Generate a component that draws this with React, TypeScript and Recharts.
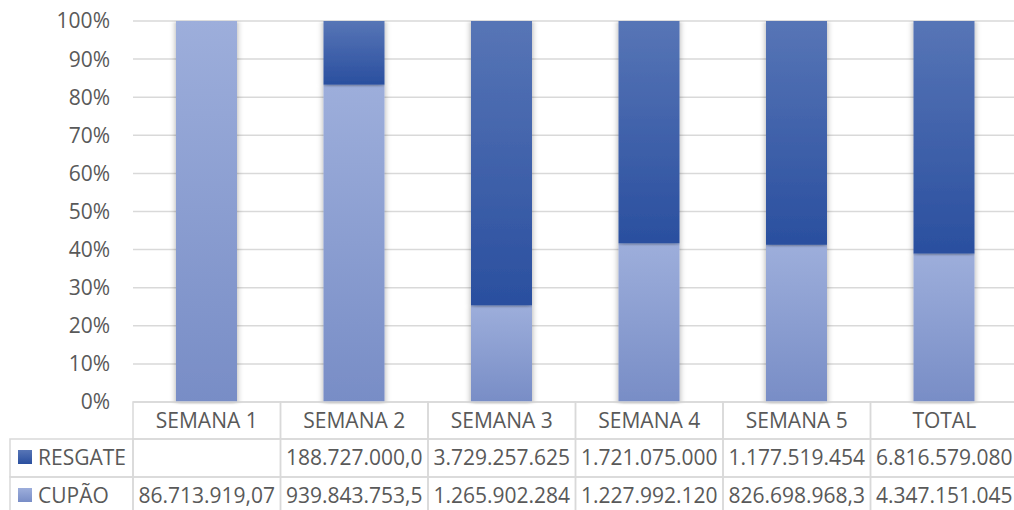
import React from 'react';
import { BarChart, Bar, XAxis, YAxis, CartesianGrid } from 'recharts';

const categories = ['SEMANA 1', 'SEMANA 2', 'SEMANA 3', 'SEMANA 4', 'SEMANA 5', 'TOTAL'];
const resgateValues: (number | null)[] = [null, 188727000.0, 3729257625, 1721075000, 1177519454, 6816579080];
const cupaoValues: number[] = [86713919.07, 939843753.5, 1265902284, 1227992120, 826698968.3, 4347151045];
const resgateLabels = ['', '188.727.000,0', '3.729.257.625', '1.721.075.000', '1.177.519.454', '6.816.579.080'];
const cupaoLabels = ['86.713.919,07', '939.843.753,5', '1.265.902.284', '1.227.992.120', '826.698.968,3', '4.347.151.045'];
const yTicks = [0, 0.1, 0.2, 0.3, 0.4, 0.5, 0.6, 0.7, 0.8, 0.9, 1];

const data = categories.map((name, i) => ({
  name,
  resgate: resgateValues[i],
  cupao: cupaoValues[i],
}));

const CHART_W = 1018;
const CHART_H = 520;
const LEFT = 133;
const TOP = 21;
const BAND_W = (CHART_W - LEFT) / categories.length;
const BORDER = '#D9D9D9';
const TEXT = '#595959';
const FONT = '"Open Sans", sans-serif';
const FS = 21;
const ROW_H = [37, 38, 43];

const cellText = (x: number, y: number, s: string, anchor: 'middle' | 'start' = 'middle') => (
  <text x={x} y={y + 18 + 7.5} textAnchor={anchor} fill={TEXT} fontFamily={FONT} fontSize={FS}>
    {s}
  </text>
);

const HeaderTick = (props: any) => {
  const { x, y, payload } = props;
  return (
    <g>
      <rect x={x - BAND_W / 2} y={y} width={BAND_W} height={ROW_H[0]} fill="none" stroke={BORDER} strokeWidth={1.5} />
      {cellText(x, y, String(payload.value))}
    </g>
  );
};

const makeRowTick = (labels: string[], name: string, color: string, rowIdx: number) => (props: any) => {
  const { x, y, index } = props;
  const h = ROW_H[rowIdx];
  return (
    <g>
      {index === 0 && (
        <g>
          <rect x={10} y={y} width={LEFT - 10} height={h} fill="none" stroke={BORDER} strokeWidth={1.5} />
          <rect x={18} y={y + 11} width={14} height={14} fill={color} />
          {cellText(38, y, name, 'start')}
        </g>
      )}
      <rect x={x - BAND_W / 2} y={y} width={BAND_W} height={h} fill="none" stroke={BORDER} strokeWidth={1.5} />
      {cellText(x, y, labels[index] ?? '')}
    </g>
  );
};

const ResgateTick = makeRowTick(resgateLabels, 'RESGATE', 'url(#gradResgate)', 1);
const CupaoTick = makeRowTick(cupaoLabels, 'CUPÃO', 'url(#gradCupao)', 2);

const BarShape = (p: any) => {
  if (!p.height || p.height <= 0) return <g />;
  return <rect x={p.x} y={p.y} width={p.width} height={p.height} fill={p.fill} filter="url(#barShadow)" />;
};

export default function App() {
  return (
    <div style={{ position: 'absolute', left: 0, top: 0, width: 1014, height: 510, overflow: 'hidden', background: '#fff' }}>
      <BarChart
        width={CHART_W}
        height={CHART_H}
        data={data}
        stackOffset="expand"
        barSize={61}
        margin={{ top: TOP, right: 0, left: 0, bottom: 0 }}
      >
        <defs>
          <linearGradient id="gradCupao" x1="0" y1="0" x2="0" y2="1">
            <stop offset="0%" stopColor="#9DAEDB" />
            <stop offset="100%" stopColor="#788DC6" />
          </linearGradient>
          <linearGradient id="gradResgate" x1="0" y1="0" x2="0" y2="1">
            <stop offset="0%" stopColor="#5775B6" />
            <stop offset="100%" stopColor="#2A4F9F" />
          </linearGradient>
          <filter id="barShadow" x="-20%" y="-5%" width="140%" height="110%">
            <feGaussianBlur in="SourceAlpha" stdDeviation="3 1" />
            <feOffset dx="0" dy="1" result="blur" />
            <feComponentTransfer>
              <feFuncA type="linear" slope="0.35" />
            </feComponentTransfer>
            <feMerge>
              <feMergeNode />
              <feMergeNode in="SourceGraphic" />
            </feMerge>
          </filter>
        </defs>
        <CartesianGrid vertical={false} stroke={BORDER} strokeWidth={1.5} />
        <YAxis
          width={LEFT}
          domain={[0, 1]}
          ticks={yTicks}
          interval={0}
          axisLine={false}
          tickLine={false}
          tickSize={0}
          tickMargin={23}
          tickFormatter={(v: number) => `${Math.round(v * 100)}%`}
          tick={{ fill: TEXT, fontFamily: FONT, fontSize: FS }}
        />
        <XAxis
          xAxisId="r1_head"
          dataKey="name"
          height={ROW_H[0]}
          axisLine={false}
          tickLine={false}
          tickSize={0}
          tickMargin={0}
          interval={0}
          tick={<HeaderTick />}
        />
        <XAxis
          xAxisId="r2_resgate"
          dataKey="name"
          height={ROW_H[1]}
          axisLine={false}
          tickLine={false}
          tickSize={0}
          tickMargin={0}
          interval={0}
          tick={<ResgateTick />}
        />
        <XAxis
          xAxisId="r3_cupao"
          dataKey="name"
          height={ROW_H[2]}
          axisLine={false}
          tickLine={false}
          tickSize={0}
          tickMargin={0}
          interval={0}
          tick={<CupaoTick />}
        />
        <Bar dataKey="cupao" name="CUPÃO" xAxisId="r1_head" stackId="a" fill="url(#gradCupao)" shape={BarShape} isAnimationActive={false} />
        <Bar dataKey="resgate" name="RESGATE" xAxisId="r1_head" stackId="a" fill="url(#gradResgate)" shape={BarShape} isAnimationActive={false} />
      </BarChart>
    </div>
  );
}
